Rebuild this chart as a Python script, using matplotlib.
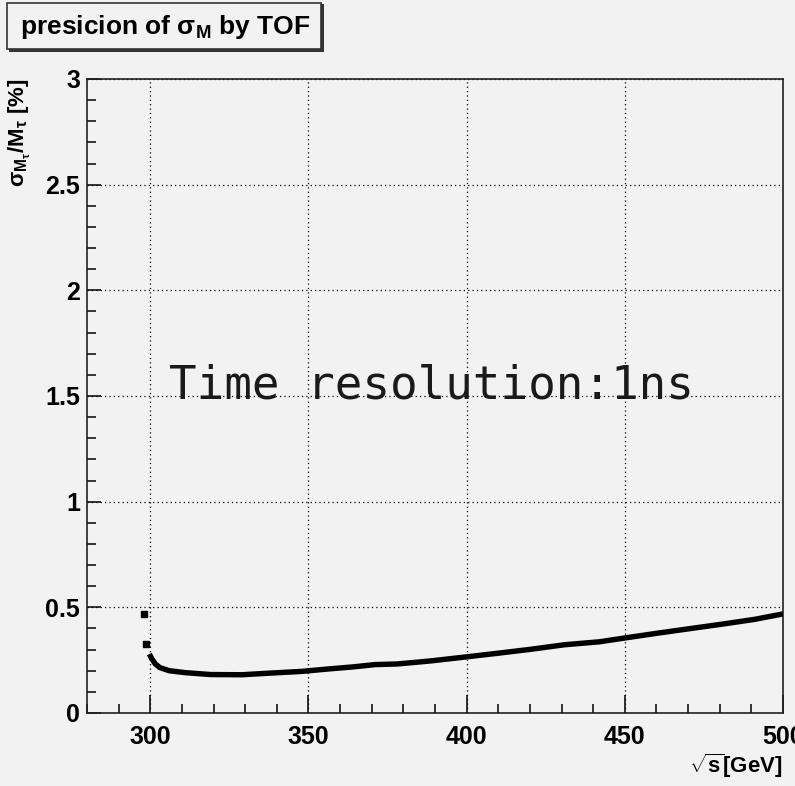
import matplotlib
matplotlib.use("Agg")
import matplotlib.pyplot as plt
from matplotlib.patches import Rectangle
from matplotlib.ticker import MultipleLocator

# ---- data ----
sqrt_s_isolated = [298.0, 298.6]
prec_isolated = [0.468, 0.325]
sqrt_s = [299.7, 300.6, 301.6, 303.0, 306.0, 311.0, 319.0, 329.0, 337.0, 348.0,
          356.0, 364.0, 371.0, 378.0, 384.0, 389.0, 399.0, 410.0, 420.0, 431.0,
          442.0, 450.0, 460.0, 470.0, 481.0, 491.0, 500.0]
precision = [0.279, 0.254, 0.232, 0.215, 0.200, 0.191, 0.182, 0.181, 0.188, 0.197,
             0.208, 0.218, 0.229, 0.232, 0.240, 0.247, 0.264, 0.283, 0.301, 0.323,
             0.337, 0.355, 0.377, 0.398, 0.421, 0.443, 0.469]
x_ticks = [300, 350, 400, 450, 500]
y_ticks = [0, 0.5, 1, 1.5, 2, 2.5, 3]
y_tick_labels = ["0", "0.5", "1", "1.5", "2", "2.5", "3"]

BG = "#f2f2f2"
FONT = ["Liberation Sans", "DejaVu Sans"]
plt.rcParams["font.family"] = FONT
plt.rcParams["mathtext.fontset"] = "custom"
plt.rcParams["mathtext.rm"] = "Liberation Sans:bold"
plt.rcParams["mathtext.bf"] = "Liberation Sans:bold"
plt.rcParams["mathtext.it"] = "Liberation Sans:italic"
plt.rcParams["mathtext.default"] = "regular"

fig = plt.figure(figsize=(7.95, 7.86), dpi=100, facecolor=BG)
ax = fig.add_axes([87 / 795, 73 / 786, 696 / 795, 634 / 786])
ax.set_facecolor(BG)

ax.plot(sqrt_s, precision, color="black", lw=3.9, solid_capstyle="butt", zorder=3)
ax.plot(sqrt_s_isolated, prec_isolated, ls="none", marker="s", ms=4,
        color="black", zorder=3)

ax.set_xlim(280, 500)
ax.set_ylim(0, 3)
ax.set_xticks(x_ticks)
ax.set_yticks(y_ticks)
ax.set_yticklabels(y_tick_labels)
ax.xaxis.set_minor_locator(MultipleLocator(10))
ax.yaxis.set_minor_locator(MultipleLocator(0.1))
ax.tick_params(axis="x", which="major", direction="in", length=13, width=1.1,
               labelsize=18, pad=9, colors="black")
ax.tick_params(axis="x", which="minor", direction="in", length=6.5, width=1.1)
ax.tick_params(axis="y", which="major", direction="in", length=10, width=1.1,
               labelsize=18, pad=5)
ax.tick_params(axis="y", which="minor", direction="in", length=6.5, width=1.1)
for lab in ax.get_xticklabels() + ax.get_yticklabels():
    lab.set_fontweight("bold")
    lab.set_family(FONT)

for s in ax.spines.values():
    s.set_linewidth(1.2)
    s.set_color("#222222")

ax.grid(True, which="major", color="black", linestyle=(0, (1, 2.5)), lw=0.9)

ax.text(389, 1.49, "Time resolution:1ns", family=["DejaVu Sans Mono"],
        fontsize=33, color="#1a1a1a", ha="center", va="baseline", zorder=4)

# axis titles (ROOT style)
fig.text(783 / 795, 1 - 766 / 786, r"$\sqrt{s}$[GeV]", ha="right", va="center",
         fontsize=16, fontweight="bold", family=FONT)
fig.text(20 / 795, 1 - 79 / 786, r"$\sigma_{M_{\tau}}$/M$_{\tau}$ [%]",
         rotation=90, ha="center", va="top", fontsize=16, fontweight="bold",
         family=FONT)

# title box with shadow
sh = Rectangle((9 / 795, 1 - 52 / 786), 315 / 795, 48 / 786, transform=fig.transFigure,
               facecolor="#333333", edgecolor="none", zorder=1)
bx = Rectangle((7 / 795, 1 - 49 / 786), 314 / 795, 46 / 786, transform=fig.transFigure,
               facecolor=BG, edgecolor="#333333", lw=1.2, zorder=2)
fig.patches.extend([sh, bx])
fig.text(165 / 795, 1 - 27 / 786, r"presicion of $\sigma_{M}$ by TOF", ha="center",
         va="center", fontsize=19, fontweight="bold", family=FONT, zorder=3)

fig.savefig("out.png", dpi=100, facecolor=BG)
